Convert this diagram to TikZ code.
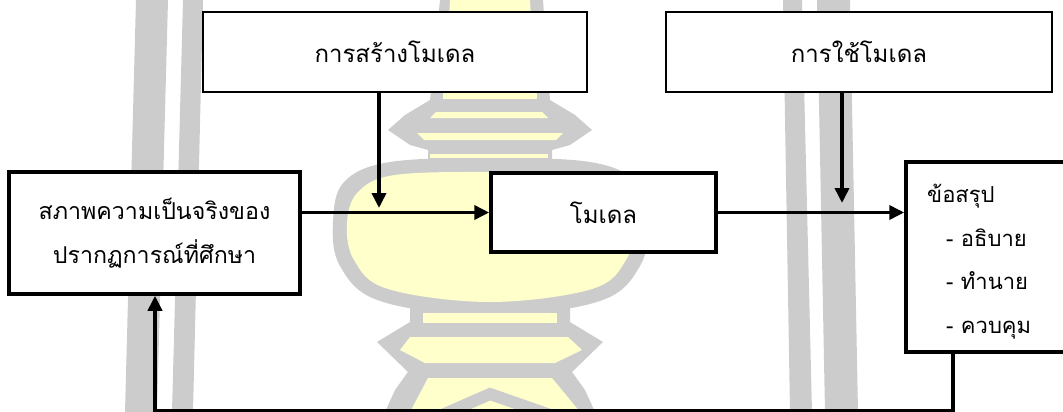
\documentclass[tikz,border=0pt]{standalone}
\usepackage{fontspec}
\newfontfamily\thaifont[Script=Thai]{Loma}
\usetikzlibrary{arrows.meta}
\definecolor{wmgray}{HTML}{CCCCCC}
\definecolor{wmyellow}{HTML}{FFFFCC}
\begin{document}
\begin{tikzpicture}[x=1pt,y=-1pt,
  thickbox/.style={draw=black, line width=3.5pt, fill=white, inner sep=0pt},
  thinbox/.style={draw=black, line width=2pt, fill=white, inner sep=0pt},
  conn/.style={line width=3.6pt},
  arr/.style={conn, -{Triangle[length=15pt,width=14pt]}},
  txt/.style={font=\thaifont\fontsize{24}{44}\selectfont},
  ltxt/.style={font=\thaifont\fontsize{23.2}{44}\selectfont},
  rtxt/.style={font=\thaifont\fontsize{22}{43.5}\selectfont},
  wmg/.style={fill=wmgray, draw=none},
  wmy/.style={fill=wmyellow, draw=none}]
\path[use as bounding box, clip] (0,0) rectangle (1063,412);

% ---- background watermark ----
\fill[wmg] (136,0) -- (168,0) -- (157,412) -- (125,412) -- cycle;
\fill[wmg] (183,0) -- (203,0) -- (193,412) -- (172,412) -- cycle;
\fill[wmg] (783,0) -- (802,0) -- (812,412) -- (790,412) -- cycle;
\fill[wmg] (817,0) -- (850,0) -- (858,412) -- (825,412) -- cycle;
% upper part of the stupa
\fill[wmg] (440,0) -- (543,0) -- (550,100) -- (575,115) -- (592,130) -- (570,145)
  -- (552,150) -- (552,166) -- (428,166) -- (428,150) -- (410,145) -- (388,130)
  -- (405,115) -- (430,100) -- cycle;
\fill[wmy] (450,0) -- (530,0) -- (535,92) -- (445,92) -- cycle;
\fill[wmy] (443,93) -- (537,93) -- (537,99) -- (443,99) -- cycle;
\fill[wmy] (436,112) -- (542,112) -- (548,118) -- (430,118) -- cycle;
\fill[wmy] (417,133) -- (563,133) -- (556,140) -- (424,140) -- cycle;
\fill[wmy] (430,154) -- (548,154) -- (548,158) -- (430,158) -- cycle;
% bulb
\fill[wmg] plot[smooth cycle, tension=0.6] coordinates {(490,158) (590,162) (636,182) (648,222) (640,266) (600,301) (490,316) (380,301) (340,266) (333,222) (344,182) (390,162)};
\fill[wmy] plot[smooth cycle, tension=0.6] coordinates {(490,172) (585,175) (622,192) (634,223) (626,260) (592,289) (490,302) (388,289) (354,260) (347,223) (358,192) (395,175)};
% lower part of the stupa
\fill[wmg] (410,305) -- (570,305) -- (570,322) -- (603,342) -- (572,372) -- (585,390)
  -- (595,412) -- (385,412) -- (395,390) -- (408,372) -- (377,342) -- (410,322) -- cycle;
\fill[wmy] (423,313) -- (557,313) -- (557,323) -- (423,323) -- cycle;
\fill[wmy] (410,337) -- (568,337) -- (582,350) -- (555,363) -- (425,363) -- (400,350) -- cycle;
\fill[wmy] (428,378) -- (552,378) -- (580,412) -- (410,412) -- cycle;
\draw[wmgray, line width=12pt] (440,416) -- (490,394) -- (553,416);

% ---- boxes ----
\node[thickbox, ltxt, align=center, minimum width=291pt, minimum height=122pt] (reality) at (154.5,233) {สภาพความเป็นจริงของ\\ปรากฏการณ์ที่ศึกษา};
\node[thickbox, txt, minimum width=225pt, minimum height=79pt] (model) at (603.5,212.5) {โมเดล};
\node[thinbox, txt, minimum width=384pt, minimum height=80pt] (build) at (395,52) {การสร้างโมเดล};
\node[thinbox, txt, minimum width=386pt, minimum height=80pt] (apply) at (859,52) {การใช้โมเดล};
\node[thickbox, minimum width=169pt, minimum height=190pt] (concl) at (990.5,257) {};
\node[rtxt, anchor=north west, align=left, inner sep=0pt] (concltext) at (927,184)
  {ข้อสรุป\\\hspace*{19pt}- อธิบาย\\\hspace*{19pt}- ทำนาย\\\hspace*{19pt}- ควบคุม};

% ---- connectors ----
\coordinate (t1) at (379,208);
\coordinate (t2) at (842,203);
\coordinate (fbr) at (953,410.5);
\coordinate (fbl) at (155,410.5);
\draw[arr] (build.south -| t1) -- (t1);
\draw[arr] (apply.south -| t2) -- (t2);
\draw[arr] (reality.east |- model.west) -- (model.west);
\draw[arr] (model.east) -- (concl.west |- model.east);
\draw[arr] (concl.south -| fbr) -- (fbr) -- (fbl) -- (reality.south -| fbl);
\end{tikzpicture}
\end{document}
